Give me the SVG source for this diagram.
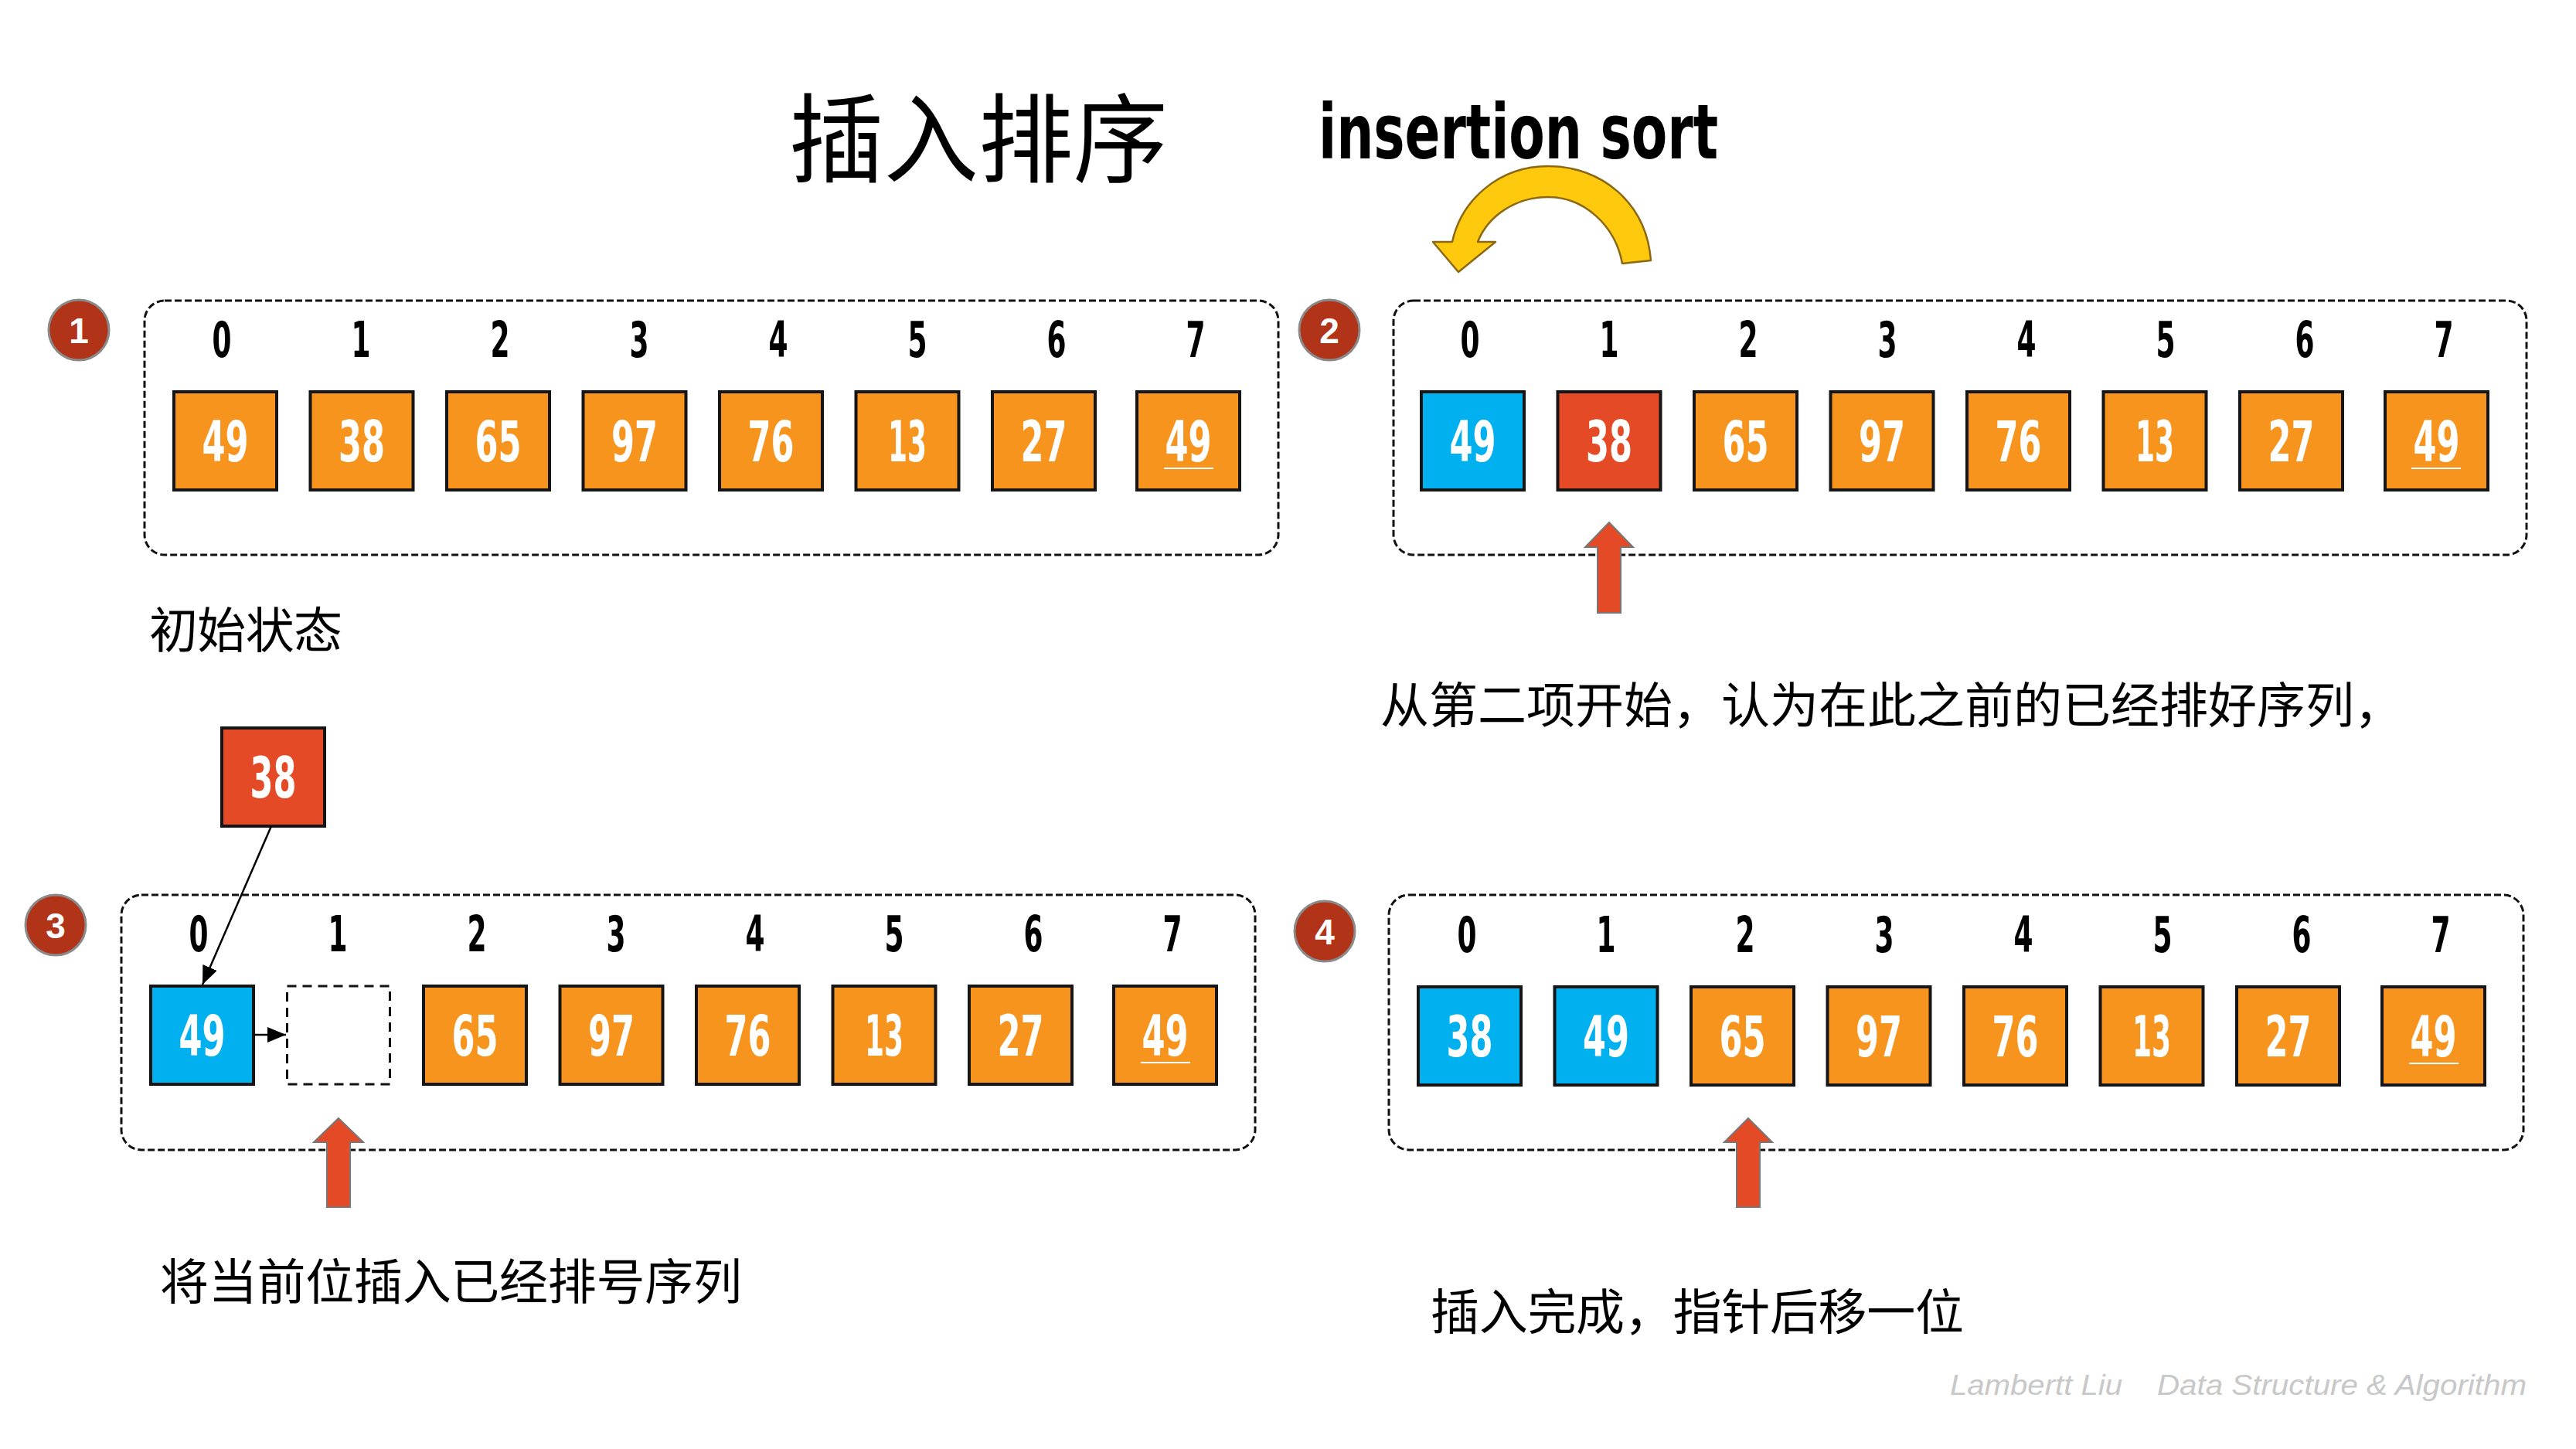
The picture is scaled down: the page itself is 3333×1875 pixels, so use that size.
<svg xmlns="http://www.w3.org/2000/svg" width="3333" height="1875" viewBox="0 0 3333 1875">
<defs>
<style>
.panel{fill:none;stroke:#111;stroke-width:3;stroke-dasharray:9 4}
.box{stroke:#151515;stroke-width:4}
.or{fill:#F7941E}.bl{fill:#00B0EF}.rd{fill:#E44A25}
.val{font-family:"DejaVu Sans Condensed","DejaVu Sans",sans-serif;font-stretch:condensed;font-weight:bold;font-size:73px;fill:#fff;text-anchor:middle}
.idx{font-family:"DejaVu Sans Condensed","DejaVu Sans",sans-serif;font-stretch:condensed;font-weight:bold;font-size:64px;fill:#000;text-anchor:middle}
.ul{stroke:#fff;stroke-width:2}
.badge{fill:#B13418;stroke:#8a8a8a;stroke-width:3}
.bnum{font-family:"Liberation Sans",Arial,sans-serif;font-weight:bold;font-size:46px;fill:#fff;text-anchor:middle}
.cjk{font-family:"Noto Sans CJK SC",sans-serif;font-size:63px;fill:#000}
.ptr{fill:#E44A25;stroke:#777;stroke-width:2}
.wm{font-family:"Liberation Sans",Arial,sans-serif;font-style:italic;font-size:37px;fill:#C8C8C8}
.conn{stroke:#000;stroke-width:2.5;fill:none}
</style>
<marker id="ah" markerUnits="userSpaceOnUse" markerWidth="26" markerHeight="20" refX="24" refY="10" orient="auto" viewBox="0 0 26 20">
<path d="M0,0 L24,10 L0,20 z" fill="#000"/>
</marker>
</defs>
<rect width="3333" height="1875" fill="#fff"/>

<g id="title">
<text x="1021" y="226" font-family="Noto Sans CJK SC,sans-serif" font-size="125" textLength="490" lengthAdjust="spacingAndGlyphs">插入排序</text>
<text x="1706" y="205" font-family="DejaVu Sans Condensed,DejaVu Sans,sans-serif" font-stretch="condensed" font-weight="bold" font-size="98" textLength="517" lengthAdjust="spacingAndGlyphs">insertion sort</text>
</g>

<g id="swap-arrow">
<path d="M2136,337 C2130,262 2072,215 2003,215 C1940,215 1891,258 1879,313 L1854,313 L1887,352 L1935,313 L1912,313 C1925,280 1960,255 2003,255 C2050,255 2090,292 2099,341 Z" fill="#FFC90E" stroke="#8B6914" stroke-width="2.5" stroke-linejoin="round"/>
</g>

<!-- Panel 1 -->
<g id="step1">
<circle class="badge" cx="102" cy="427" r="39"/>
<text class="bnum" x="102" y="444">1</text>
<rect class="panel" x="187" y="389" width="1467" height="329" rx="26"/>
<g>
<text class="idx" x="287" y="462" textLength="25" lengthAdjust="spacingAndGlyphs">0</text>
<text class="idx" x="467" y="462" textLength="25" lengthAdjust="spacingAndGlyphs">1</text>
<text class="idx" x="647" y="462" textLength="25" lengthAdjust="spacingAndGlyphs">2</text>
<text class="idx" x="827" y="462" textLength="25" lengthAdjust="spacingAndGlyphs">3</text>
<text class="idx" x="1007" y="462" textLength="25" lengthAdjust="spacingAndGlyphs">4</text>
<text class="idx" x="1187" y="462" textLength="25" lengthAdjust="spacingAndGlyphs">5</text>
<text class="idx" x="1367" y="462" textLength="25" lengthAdjust="spacingAndGlyphs">6</text>
<text class="idx" x="1547" y="462" textLength="25" lengthAdjust="spacingAndGlyphs">7</text>
</g>
<g id="s1-b0"><rect class="box or" x="225" y="507" width="133" height="127"/><text class="val" x="291.5" y="597" textLength="60" lengthAdjust="spacingAndGlyphs">49</text></g>
<g id="s1-b1"><rect class="box or" x="401.5" y="507" width="133" height="127"/><text class="val" x="468" y="597" textLength="60" lengthAdjust="spacingAndGlyphs">38</text></g>
<g id="s1-b2"><rect class="box or" x="578" y="507" width="133" height="127"/><text class="val" x="644.5" y="597" textLength="60" lengthAdjust="spacingAndGlyphs">65</text></g>
<g id="s1-b3"><rect class="box or" x="754.5" y="507" width="133" height="127"/><text class="val" x="821" y="597" textLength="60" lengthAdjust="spacingAndGlyphs">97</text></g>
<g id="s1-b4"><rect class="box or" x="931" y="507" width="133" height="127"/><text class="val" x="997.5" y="597" textLength="60" lengthAdjust="spacingAndGlyphs">76</text></g>
<g id="s1-b5"><rect class="box or" x="1107.5" y="507" width="133" height="127"/><text class="val" x="1174" y="597" textLength="50" lengthAdjust="spacingAndGlyphs">13</text></g>
<g id="s1-b6"><rect class="box or" x="1284" y="507" width="133" height="127"/><text class="val" x="1350.5" y="597" textLength="60" lengthAdjust="spacingAndGlyphs">27</text></g>
<g id="s1-b7"><rect class="box or" x="1471" y="507" width="133" height="127"/><text class="val" x="1537.5" y="597" textLength="60" lengthAdjust="spacingAndGlyphs">49</text><line class="ul" x1="1506" y1="606" x2="1570" y2="606"/></g>
<text class="cjk" x="193" y="838" textLength="250" lengthAdjust="spacing">初始状态</text>
</g>

<!-- Panel 2 -->
<g id="step2">
<circle class="badge" cx="1720" cy="427" r="39"/>
<text class="bnum" x="1720" y="444">2</text>
<rect class="panel" x="1803" y="389" width="1466" height="329" rx="26"/>
<g>
<text class="idx" x="1902" y="462" textLength="25" lengthAdjust="spacingAndGlyphs">0</text>
<text class="idx" x="2082" y="462" textLength="25" lengthAdjust="spacingAndGlyphs">1</text>
<text class="idx" x="2262" y="462" textLength="25" lengthAdjust="spacingAndGlyphs">2</text>
<text class="idx" x="2442" y="462" textLength="25" lengthAdjust="spacingAndGlyphs">3</text>
<text class="idx" x="2622" y="462" textLength="25" lengthAdjust="spacingAndGlyphs">4</text>
<text class="idx" x="2802" y="462" textLength="25" lengthAdjust="spacingAndGlyphs">5</text>
<text class="idx" x="2982" y="462" textLength="25" lengthAdjust="spacingAndGlyphs">6</text>
<text class="idx" x="3162" y="462" textLength="25" lengthAdjust="spacingAndGlyphs">7</text>
</g>
<g id="s2-b0"><rect class="box bl" x="1839" y="507" width="133" height="127"/><text class="val" x="1905.5" y="597" textLength="60" lengthAdjust="spacingAndGlyphs">49</text></g>
<g id="s2-b1"><rect class="box rd" x="2015.5" y="507" width="133" height="127"/><text class="val" x="2082" y="597" textLength="60" lengthAdjust="spacingAndGlyphs">38</text></g>
<g id="s2-b2"><rect class="box or" x="2192" y="507" width="133" height="127"/><text class="val" x="2258.5" y="597" textLength="60" lengthAdjust="spacingAndGlyphs">65</text></g>
<g id="s2-b3"><rect class="box or" x="2368.5" y="507" width="133" height="127"/><text class="val" x="2435" y="597" textLength="60" lengthAdjust="spacingAndGlyphs">97</text></g>
<g id="s2-b4"><rect class="box or" x="2545" y="507" width="133" height="127"/><text class="val" x="2611.5" y="597" textLength="60" lengthAdjust="spacingAndGlyphs">76</text></g>
<g id="s2-b5"><rect class="box or" x="2721.5" y="507" width="133" height="127"/><text class="val" x="2788" y="597" textLength="50" lengthAdjust="spacingAndGlyphs">13</text></g>
<g id="s2-b6"><rect class="box or" x="2898" y="507" width="133" height="127"/><text class="val" x="2964.5" y="597" textLength="60" lengthAdjust="spacingAndGlyphs">27</text></g>
<g id="s2-b7"><rect class="box or" x="3086" y="507" width="133" height="127"/><text class="val" x="3152.5" y="597" textLength="60" lengthAdjust="spacingAndGlyphs">49</text><line class="ul" x1="3120" y1="606" x2="3184" y2="606"/></g>
<path id="s2-ptr" class="ptr" d="M2082,676 L2113,708 L2097,708 L2097,793 L2067,793 L2067,708 L2051,708 Z"/>
<text class="cjk" x="1786" y="935" textLength="1323" lengthAdjust="spacing">从第二项开始，认为在此之前的已经排好序列，</text>
</g>

<!-- Panel 3 -->
<g id="step3">
<circle class="badge" cx="72" cy="1197" r="39"/>
<text class="bnum" x="72" y="1214">3</text>
<rect class="panel" x="157" y="1158" width="1467" height="330" rx="26"/>
<g>
<text class="idx" x="257" y="1231" textLength="25" lengthAdjust="spacingAndGlyphs">0</text>
<text class="idx" x="437" y="1231" textLength="25" lengthAdjust="spacingAndGlyphs">1</text>
<text class="idx" x="617" y="1231" textLength="25" lengthAdjust="spacingAndGlyphs">2</text>
<text class="idx" x="797" y="1231" textLength="25" lengthAdjust="spacingAndGlyphs">3</text>
<text class="idx" x="977" y="1231" textLength="25" lengthAdjust="spacingAndGlyphs">4</text>
<text class="idx" x="1157" y="1231" textLength="25" lengthAdjust="spacingAndGlyphs">5</text>
<text class="idx" x="1337" y="1231" textLength="25" lengthAdjust="spacingAndGlyphs">6</text>
<text class="idx" x="1517" y="1231" textLength="25" lengthAdjust="spacingAndGlyphs">7</text>
</g>
<g id="s3-float"><rect class="box rd" x="287" y="942" width="133" height="127"/><text class="val" x="353.5" y="1032" textLength="60" lengthAdjust="spacingAndGlyphs">38</text></g>
<g id="s3-b0"><rect class="box bl" x="195" y="1276" width="133" height="127"/><text class="val" x="261.5" y="1366" textLength="60" lengthAdjust="spacingAndGlyphs">49</text></g>
<g id="s3-b1"><rect x="371.5" y="1276" width="133" height="127" fill="none" stroke="#111" stroke-width="3" stroke-dasharray="12 8"/></g>
<g id="s3-b2"><rect class="box or" x="548" y="1276" width="133" height="127"/><text class="val" x="614.5" y="1366" textLength="60" lengthAdjust="spacingAndGlyphs">65</text></g>
<g id="s3-b3"><rect class="box or" x="724.5" y="1276" width="133" height="127"/><text class="val" x="791" y="1366" textLength="60" lengthAdjust="spacingAndGlyphs">97</text></g>
<g id="s3-b4"><rect class="box or" x="901" y="1276" width="133" height="127"/><text class="val" x="967.5" y="1366" textLength="60" lengthAdjust="spacingAndGlyphs">76</text></g>
<g id="s3-b5"><rect class="box or" x="1077.5" y="1276" width="133" height="127"/><text class="val" x="1144" y="1366" textLength="50" lengthAdjust="spacingAndGlyphs">13</text></g>
<g id="s3-b6"><rect class="box or" x="1254" y="1276" width="133" height="127"/><text class="val" x="1320.5" y="1366" textLength="60" lengthAdjust="spacingAndGlyphs">27</text></g>
<g id="s3-b7"><rect class="box or" x="1441" y="1276" width="133" height="127"/><text class="val" x="1507.5" y="1366" textLength="60" lengthAdjust="spacingAndGlyphs">49</text><line class="ul" x1="1476" y1="1375" x2="1540" y2="1375"/></g>
<path id="s3-ptr" class="ptr" d="M438,1447 L470,1478 L453,1478 L453,1562 L423,1562 L423,1478 L406,1478 Z"/>
<text class="cjk" x="207" y="1681" textLength="753" lengthAdjust="spacing">将当前位插入已经排号序列</text>
</g>

<!-- Panel 4 -->
<g id="step4">
<circle class="badge" cx="1714" cy="1205" r="39"/>
<text class="bnum" x="1714" y="1222">4</text>
<rect class="panel" x="1797" y="1158" width="1468" height="330" rx="26"/>
<g>
<text class="idx" x="1898" y="1232" textLength="25" lengthAdjust="spacingAndGlyphs">0</text>
<text class="idx" x="2078" y="1232" textLength="25" lengthAdjust="spacingAndGlyphs">1</text>
<text class="idx" x="2258" y="1232" textLength="25" lengthAdjust="spacingAndGlyphs">2</text>
<text class="idx" x="2438" y="1232" textLength="25" lengthAdjust="spacingAndGlyphs">3</text>
<text class="idx" x="2618" y="1232" textLength="25" lengthAdjust="spacingAndGlyphs">4</text>
<text class="idx" x="2798" y="1232" textLength="25" lengthAdjust="spacingAndGlyphs">5</text>
<text class="idx" x="2978" y="1232" textLength="25" lengthAdjust="spacingAndGlyphs">6</text>
<text class="idx" x="3158" y="1232" textLength="25" lengthAdjust="spacingAndGlyphs">7</text>
</g>
<g id="s4-b0"><rect class="box bl" x="1835" y="1277" width="133" height="127"/><text class="val" x="1901.5" y="1367" textLength="60" lengthAdjust="spacingAndGlyphs">38</text></g>
<g id="s4-b1"><rect class="box bl" x="2011.5" y="1277" width="133" height="127"/><text class="val" x="2078" y="1367" textLength="60" lengthAdjust="spacingAndGlyphs">49</text></g>
<g id="s4-b2"><rect class="box or" x="2188" y="1277" width="133" height="127"/><text class="val" x="2254.5" y="1367" textLength="60" lengthAdjust="spacingAndGlyphs">65</text></g>
<g id="s4-b3"><rect class="box or" x="2364.5" y="1277" width="133" height="127"/><text class="val" x="2431" y="1367" textLength="60" lengthAdjust="spacingAndGlyphs">97</text></g>
<g id="s4-b4"><rect class="box or" x="2541" y="1277" width="133" height="127"/><text class="val" x="2607.5" y="1367" textLength="60" lengthAdjust="spacingAndGlyphs">76</text></g>
<g id="s4-b5"><rect class="box or" x="2717.5" y="1277" width="133" height="127"/><text class="val" x="2784" y="1367" textLength="50" lengthAdjust="spacingAndGlyphs">13</text></g>
<g id="s4-b6"><rect class="box or" x="2894" y="1277" width="133" height="127"/><text class="val" x="2960.5" y="1367" textLength="60" lengthAdjust="spacingAndGlyphs">27</text></g>
<g id="s4-b7"><rect class="box or" x="3082" y="1277" width="133" height="127"/><text class="val" x="3148.5" y="1367" textLength="60" lengthAdjust="spacingAndGlyphs">49</text><line class="ul" x1="3117" y1="1376" x2="3181" y2="1376"/></g>
<path id="s4-ptr" class="ptr" d="M2262,1447 L2293,1478 L2277,1478 L2277,1562 L2247,1562 L2247,1478 L2231,1478 Z"/>
<text class="cjk" x="1851" y="1720" textLength="690" lengthAdjust="spacing">插入完成，指针后移一位</text>
</g>

<g id="connectors">
<line class="conn" x1="351" y1="1069" x2="262" y2="1274" marker-end="url(#ah)"/>
<line class="conn" x1="329" y1="1339" x2="370" y2="1339" marker-end="url(#ah)"/>
</g>

<g id="watermark">
<text class="wm" x="2523" y="1805" textLength="223" lengthAdjust="spacingAndGlyphs">Lambertt Liu</text>
<text class="wm" x="2791" y="1805" textLength="478" lengthAdjust="spacingAndGlyphs">Data Structure &amp; Algorithm</text>
</g>
</svg>
